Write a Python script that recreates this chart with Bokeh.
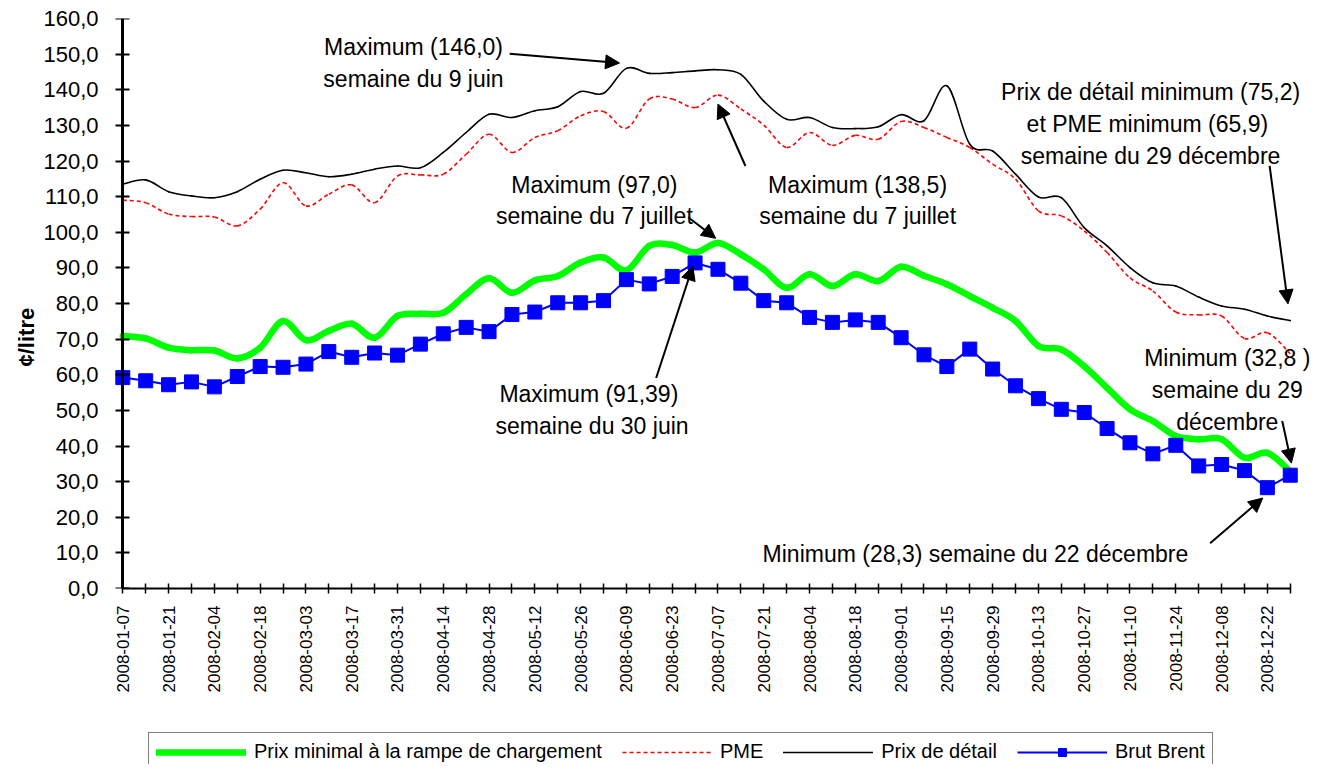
import math
import numpy as np
import pandas as pd
from bokeh.plotting import figure
from bokeh.layouts import column
from bokeh.models import (Range1d, FixedTicker, Legend, LegendItem, Label, Arrow,
                          NormalHead, ColumnDataSource, LinearAxis, Title)
from bokeh.embed import file_html
from bokeh.resources import INLINE

# ---------------- data ----------------
weeks = [d.strftime("%Y-%m-%d") for d in pd.date_range("2008-01-07", periods=52, freq="7D")]

rack = [70.9, 70.2, 67.6, 66.9, 66.8, 64.6, 67.6, 75.1, 69.7, 72.3,
        74.3, 70.4, 76.5, 77.1, 77.4, 82.6, 87.1, 83.0, 86.5, 87.7,
        91.5, 92.9, 89.3, 96.2, 96.4, 94.3, 97.0, 93.8, 89.6, 84.4,
        88.2, 84.9, 88.2, 86.3, 90.3, 87.8, 85.4, 82.1, 78.8, 75.1,
        68.1, 67.1, 62.4, 56.3, 50.3, 47.0, 42.8, 41.9, 41.9, 36.7,
        38.1, 32.8]

pme = [109.0, 108.3, 105.1, 104.4, 104.3, 101.8, 106.5, 113.9, 107.4, 110.7,
       113.3, 108.3, 115.8, 116.1, 116.3, 121.9, 127.5, 122.4, 126.6, 128.5,
       132.7, 133.9, 129.2, 137.4, 137.4, 135.0, 138.5, 134.6, 130.1, 123.8,
       128.0, 124.4, 127.2, 126.1, 131.1, 129.4, 126.6, 123.8, 119.1, 114.9,
       106.0, 104.6, 100.4, 94.3, 87.2, 83.5, 77.6, 76.8, 76.5, 70.2,
       71.8, 65.9]

retail = [113.5, 114.7, 111.4, 110.2, 109.7, 111.4, 114.9, 117.4, 116.7, 115.6,
          116.3, 117.7, 118.6, 118.1, 122.4, 128.0, 133.1, 132.2, 134.1, 135.2,
          139.5, 139.0, 146.0, 144.6, 144.8, 145.3, 145.6, 144.3, 136.8, 131.7,
          132.2, 129.4, 129.1, 129.6, 133.0, 131.3, 141.1, 124.7, 122.8, 116.3,
          109.9, 109.7, 101.3, 96.2, 90.1, 85.8, 84.9, 81.8, 79.3, 78.4,
          76.5, 75.2]

brent = [59.2, 58.3, 57.2, 58.0, 56.6, 59.5, 62.3, 62.1, 63.0, 66.5,
         64.9, 66.1, 65.5, 68.6, 71.5, 73.3, 72.1, 76.9, 77.6, 80.2,
         80.2, 80.8, 86.7, 85.5, 87.6, 91.39, 89.6, 85.7, 80.8, 80.2,
         76.1, 74.7, 75.4, 74.7, 70.4, 65.6, 62.3, 67.2, 61.6, 56.9,
         53.3, 50.3, 49.4, 44.9, 40.9, 37.8, 40.2, 34.4, 34.8, 33.1,
         28.3, 31.8]

y_ticks = list(range(0, 161, 10))

series_names = ["Prix minimal à la rampe de chargement", "PME", "Prix de détail", "Brut Brent"]
y_title = "¢/litre"

FONT = "Liberation Sans"
xi = np.arange(len(weeks), dtype=float)

STY_RACK = dict(line_color="#00FF00", line_width=6.5, line_cap="round")
STY_PME = dict(line_color="#FF0000", line_width=1.6, line_dash="4 3")
STY_RET = dict(line_color="black", line_width=1.6, line_cap="round")
STY_BL = dict(line_color="#0000FF", line_width=2)
STY_BS = dict(marker="square", size=14, fill_color="#0000FF", line_color="#0000FF")

p = figure(width=1314, height=728, output_backend="svg", toolbar_location=None,
           x_range=Range1d(-0.45, 52.06), y_range=Range1d(0, 160),
           min_border_left=112, min_border_right=0, min_border_top=18,
           min_border_bottom=140, background_fill_color="white",
           border_fill_color="white")
p.outline_line_color = None
p.grid.visible = False


def smooth_source(vals):
    y = np.asarray(vals, dtype=float)
    n = len(y)
    px = np.concatenate([[xi[0]], xi, [xi[-1]]])
    py = np.concatenate([[y[0]], y, [y[-1]]])
    i = np.arange(n - 1)
    t = 1.0 / 6.0
    return ColumnDataSource(dict(
        x0=px[i + 1], y0=py[i + 1], x1=px[i + 2], y1=py[i + 2],
        cx0=px[i + 1] + (px[i + 2] - px[i]) * t,
        cy0=py[i + 1] + (py[i + 2] - py[i]) * t,
        cx1=px[i + 2] - (px[i + 3] - px[i + 1]) * t,
        cy1=py[i + 2] - (py[i + 3] - py[i + 1]) * t,
    ))


BZ = dict(x0="x0", y0="y0", x1="x1", y1="y1", cx0="cx0", cy0="cy0", cx1="cx1", cy1="cy1")
p.bezier(source=smooth_source(rack), **BZ, **STY_RACK)
p.bezier(source=smooth_source(pme), **BZ, **STY_PME)
p.bezier(source=smooth_source(retail), **BZ, **STY_RET)
src_b = ColumnDataSource(dict(x=xi, y=brent))
p.line("x", "y", source=src_b, **STY_BL)
p.scatter("x", "y", source=src_b, **STY_BS)

# ---------------- axes ----------------
yax = p.yaxis[0]
yax.ticker = FixedTicker(ticks=y_ticks)
yax.major_label_overrides = {v: f"{v:.1f}".replace(".", ",") for v in y_ticks}
yax.minor_tick_line_color = None
yax.major_tick_line_color = None
yax.axis_line_color = None
yax.major_tick_in = 0
yax.major_tick_out = 0
yax.major_label_standoff = 14
yax.major_label_text_font = FONT
yax.major_label_text_font_size = "22px"
yax.major_label_text_color = "black"

yline = LinearAxis(fixed_location=0, ticker=FixedTicker(ticks=y_ticks),
                   major_label_overrides={v: "" for v in y_ticks},
                   major_label_text_font_size="0px", major_label_standoff=0,
                   minor_tick_line_color=None, major_tick_in=7, major_tick_out=7,
                   major_tick_line_width=2, axis_line_width=3,
                   axis_line_color="black", major_tick_line_color="black")
p.add_layout(yline, "left")

p.add_layout(Title(text=y_title, text_font=FONT, text_font_size="22px",
                   text_font_style="bold", text_color="black", align="left",
                   standoff=4, offset=222), "left")

xax = p.xaxis[0]
xax.ticker = FixedTicker(ticks=list(range(len(weeks))))
xax.major_label_overrides = {i: (w if i % 2 == 0 else "") for i, w in enumerate(weeks)}
xax.bounds = (0, len(weeks) - 1)
xax.minor_tick_line_color = None
xax.major_tick_in = 5
xax.major_tick_out = 5
xax.major_tick_line_width = 1.5
xax.axis_line_width = 2
xax.major_label_orientation = math.pi / 2
xax.major_label_standoff = 12
xax.major_label_text_font = FONT
xax.major_label_text_font_size = "17px"
xax.major_label_text_color = "black"

# ---------------- annotations ----------------
def note(x, y, text, align="center"):
    p.add_layout(Label(x=x, y=y, text=text, text_align=align, text_baseline="middle",
                       text_font=FONT, text_font_size="23px", text_color="black",
                       text_line_height=1.22))


def arrow(xs, ys, xe, ye):
    p.add_layout(Arrow(end=NormalHead(size=14, fill_color="black", line_color="black"),
                       x_start=xs, y_start=ys, x_end=xe, y_end=ye,
                       line_color="black", line_width=2))


note(12.7, 147.6, "Maximum (146,0)\nsemaine du 9 juin")
arrow(16.9, 150.1, 21.7, 147.5)

note(20.6, 108.9, "Maximum (97,0)\nsemaine du 7 juillet")
arrow(24.7, 104.2, 25.9, 98.3)

note(32.1, 108.9, "Maximum (138,5)\nsemaine du 7 juillet")
arrow(27.2, 118.6, 26.0, 136.0)

note(44.9, 130.4, "Prix de détail minimum (75,2)\net PME  minimum (65,9)\nsemaine du 29 décembre")
arrow(50.1, 118.6, 50.9, 79.9)

note(48.25, 55.7, "Minimum (32,8 )\nsemaine du 29\ndécembre")
arrow(50.65, 47.0, 51.05, 35.2)

note(20.5, 50.1, "Maximum  (91,39)\nsemaine du 30 juin")
arrow(23.3, 59.1, 24.9, 90.5)

note(27.95, 9.6, "Minimum (28,3)  semaine du 22 décembre", align="left")
arrow(47.5, 12.7, 49.8, 25.4)

# ---------------- legend (strip below the chart) ----------------
q = figure(width=1314, height=36, output_backend="svg", toolbar_location=None,
           x_range=Range1d(0, 1), y_range=Range1d(0, 1), x_axis_type=None,
           y_axis_type=None, min_border=0, background_fill_color="white",
           border_fill_color="white")
q.outline_line_color = None
q.grid.visible = False
# the series themselves lie outside this strip's 0..1 range: only their legend samples show
lg_rack = q.line(x=xi, y=rack, **STY_RACK)
lg_pme = q.line(x=xi, y=pme, **STY_PME)
lg_ret = q.line(x=xi, y=retail, **STY_RET)
lg_bl = q.line(x=xi, y=brent, **STY_BL)
lg_bs = q.scatter(x=xi, y=brent, **STY_BS)

legend = Legend(items=[
    LegendItem(label=series_names[0], renderers=[lg_rack]),
    LegendItem(label=series_names[1], renderers=[lg_pme]),
    LegendItem(label=series_names[2], renderers=[lg_ret]),
    LegendItem(label=series_names[3], renderers=[lg_bl, lg_bs]),
], orientation="horizontal", location=(36, -7),
    label_text_font=FONT, label_text_font_size="20px", label_text_color="black",
    glyph_width=90, glyph_height=20, label_standoff=8, spacing=20, padding=7,
    margin=0, border_line_color="black", border_line_width=1.5,
    background_fill_color="white", background_fill_alpha=1.0)
q.add_layout(legend)

open("out.html", "w").write(file_html(column(p, q, spacing=0), INLINE))
